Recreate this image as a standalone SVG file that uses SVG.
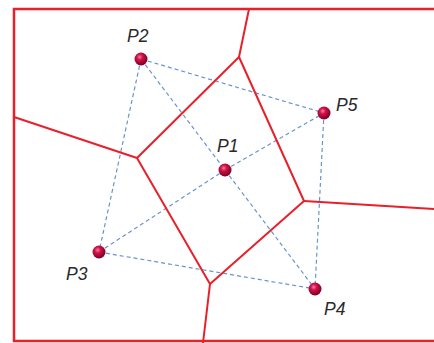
<svg xmlns="http://www.w3.org/2000/svg" width="434" height="343" viewBox="0 0 434 343">
<defs>
<radialGradient id="ball" cx="0.4" cy="0.35" r="0.65">
<stop offset="0" stop-color="#ff7a9a"/>
<stop offset="0.35" stop-color="#d0124a"/>
<stop offset="1" stop-color="#7a0020"/>
</radialGradient>
<style>
.v{stroke:#e8202a;stroke-width:2;fill:none;stroke-linecap:round;stroke-linejoin:round}
.b{stroke:#e8202a;stroke-width:2.5;fill:none}
.d{stroke:#6a94c8;stroke-width:1.2;stroke-dasharray:4 3;fill:none}
.lbl{font-family:"Liberation Sans",Arial,sans-serif;font-style:italic;font-size:17.5px;fill:#2a2a2a}
.pt{fill:url(#ball)}
</style>
</defs>
<rect width="434" height="343" fill="#ffffff"/>
<g id="border">
<polyline class="b" points="436,9 14,9 14,341 436,341"/>
</g>
<g id="connectors">
<line class="d" x1="141" y1="59" x2="324" y2="113"/>
<line class="d" x1="141" y1="59" x2="99" y2="252"/>
<line class="d" x1="99" y1="252" x2="315" y2="289"/>
<line class="d" x1="324" y1="113" x2="315" y2="289"/>
<line class="d" x1="141" y1="59" x2="225" y2="170"/>
<line class="d" x1="225" y1="170" x2="315" y2="289"/>
<line class="d" x1="99" y1="252" x2="225" y2="170"/>
<line class="d" x1="225" y1="170" x2="324" y2="113"/>
</g>
<g id="voronoi">
<polygon class="v" points="137,158 239,57 304,201 210,284"/>
<line class="v" x1="137" y1="158" x2="14" y2="117"/>
<line class="v" x1="239" y1="57" x2="249" y2="9"/>
<line class="v" x1="304" y1="201" x2="434" y2="209"/>
<line class="v" x1="210" y1="284" x2="203" y2="343"/>
</g>
<g id="P1"><circle class="pt" cx="225" cy="170" r="6.5"/><text class="lbl" x="217" y="152">P1</text></g>
<g id="P2"><circle class="pt" cx="141" cy="59" r="6.5"/><text class="lbl" x="127" y="42">P2</text></g>
<g id="P3"><circle class="pt" cx="99" cy="252" r="6.5"/><text class="lbl" x="66" y="280">P3</text></g>
<g id="P4"><circle class="pt" cx="315" cy="289" r="6.5"/><text class="lbl" x="324" y="315">P4</text></g>
<g id="P5"><circle class="pt" cx="324" cy="113" r="6.5"/><text class="lbl" x="336" y="111">P5</text></g>
</svg>
